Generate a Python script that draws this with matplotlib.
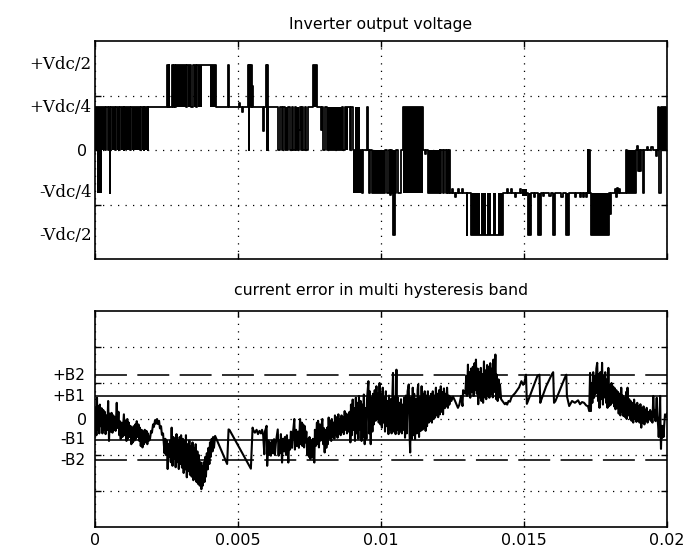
import matplotlib
matplotlib.use("Agg")
import matplotlib.pyplot as plt
import numpy as np

# inverter output voltage : switching instants (ms) and level (in steps of Vdc/4)
sw_pts = [(0.00, 1), (0.34, 0), (0.40, 1), (0.45, 0), (0.49, 1), (0.51, -1), (0.53, 0), (0.57, 1),
          (0.71, 0), (0.75, 1), (0.85, 0), (0.89, 1), (1.00, 0), (1.03, 1), (1.23, 0), (1.26, 1),
          (1.59, 0), (1.62, 1), (1.70, 0), (1.73, 1), (1.84, 0), (1.86, 1),
          (2.52, 2), (2.55, 1), (2.58, 2), (2.60, 1), (2.70, 2), (2.73, 1), (2.76, 2), (2.78, 1),
          (2.83, 2), (3.18, 1), (3.23, 2), (3.37, 1), (3.42, 2), (3.53, 1), (3.57, 2), (4.23, 1),
          (4.66, 2), (4.69, 1), (5.05, 1.1), (5.08, 1), (5.15, 0.9), (5.18, 1),
          (5.34, 2), (5.37, 0), (5.39, 2), (5.42, 1), (5.45, 2), (5.48, 1), (5.50, 1.5), (5.53, 1),
          (5.88, 0.45), (5.92, 1), (5.97, 2), (6.00, 0), (6.02, 2), (6.05, 0), (6.06, 1),
          (6.39, 0), (6.47, 1), (6.53, 0), (6.56, 1), (6.64, 0), (6.76, 1), (6.82, 0), (6.88, 1),
          (6.93, 0), (6.99, 1), (7.03, 0), (7.13, 0.47), (7.18, 1), (7.20, 0), (7.23, 1),
          (7.28, 0), (7.34, 1), (7.38, 0), (7.44, 1), (7.63, 2), (7.75, 1), (7.90, 0.47), (7.95, 1),
          (7.98, 0), (8.04, 1), (8.10, 0), (8.63, 1), (8.68, 0), (8.74, 1), (8.91, 0), (8.94, 1),
          (9.03, 0), (9.35, -1), (9.38, 0), (9.50, 1), (9.54, 0), (9.57, -1), (9.63, 0),
          (9.67, -1), (10.13, 0), (10.22, -1), (10.27, 0), (10.30, -1.05), (10.36, 0),
          (10.38, -1), (10.43, -2), (10.48, -1), (10.53, 0), (10.59, -1), (10.69, 0),
          (10.77, 1), (11.47, 0), (11.55, -0.1), (11.58, 0), (11.64, -1), (12.05, 0),
          (12.07, -1), (12.09, 0), (12.17, -1), (12.21, 0), (12.28, -1), (12.31, 0), (12.34, -1),
          (12.37, 0), (12.40, -1), (12.50, -0.92), (12.52, -1), (12.60, -1.1), (12.62, -1),
          (12.70, -0.92), (12.73, -1), (12.83, -0.92), (12.86, -1), (12.99, -2), (13.02, -1),
          (13.16, -2), (14.27, -1), (14.40, -0.92), (14.43, -1), (14.55, -0.92), (14.58, -1),
          (14.70, -1.1), (14.73, -1), (14.85, -0.92), (14.88, -1), (15.13, -2), (15.24, -1),
          (15.35, -1.1), (15.38, -1), (15.48, -2), (15.59, -1), (15.65, -1.08), (15.70, -1),
          (15.89, -1.08), (15.94, -1), (16.00, -2), (16.09, -1), (16.30, -1.1), (16.37, -1),
          (16.47, -2), (16.58, -1), (16.80, -1.1), (16.83, -1), (16.95, -1.1), (16.98, -1),
          (17.08, -1.1), (17.11, -1), (17.18, -1.1), (17.21, -1), (17.23, 0), (17.25, -1),
          (17.28, 0), (17.31, -1), (17.34, -2), (17.98, -1), (18.00, -1.5), (18.03, -1),
          (18.18, -0.92), (18.21, -1.1), (18.25, -0.9), (18.29, -1), (18.33, -0.92), (18.36, -1),
          (18.57, 0), (18.60, -1), (18.92, 0), (18.95, 0.1), (18.99, -0.5), (19.03, 0),
          (19.07, -0.5), (19.10, 0), (19.15, -1), (19.20, 0), (19.30, 0.08), (19.35, 0),
          (19.45, 0.08), (19.50, 0), (19.62, -0.15), (19.66, 0), (19.67, 1), (19.73, -1),
          (19.79, 1), (19.97, 0), (20.00, 0)]

# fast chattering stretches : t0, t1 (ms), low level, high level
chatter = [(0.00, 0.34, 0, 1), (0.06, 0.23, -1, 0), (0.61, 0.71, 0, 1), (0.78, 0.85, 0, 1),
           (0.92, 1.00, 0, 1), (1.05, 1.23, 0, 1), (1.29, 1.59, 0, 1), (1.64, 1.70, 0, 1),
           (1.75, 1.84, 0, 1), (2.83, 3.18, 1, 2), (3.26, 3.37, 1, 2), (3.46, 3.53, 1, 2),
           (3.60, 3.74, 1, 2), (4.03, 4.23, 1, 2), (5.97, 6.05, 0, 2), (6.64, 6.76, 0, 1),
           (7.03, 7.13, 0, 1), (7.63, 7.75, 1, 2), (8.10, 8.63, 0, 1), (8.74, 8.86, 0, 1),
           (9.03, 9.33, -1, 0), (9.08, 9.25, 0, 1), (9.67, 10.13, -1, 0), (10.38, 10.53, -1, 0),
           (10.43, 10.48, -2, -1), (10.77, 11.47, -1, 1), (11.64, 12.05, -1, 0),
           (13.16, 13.45, -2, -1), (13.51, 13.68, -2, -1), (13.72, 13.86, -2, -1),
           (13.92, 14.03, -2, -1), (14.09, 14.27, -2, -1), (14.92, 15.10, -1.08, -0.92),
           (15.13, 15.24, -2, -1), (15.48, 15.59, -2, -1), (16.00, 16.09, -2, -1),
           (16.47, 16.58, -2, -1), (17.34, 17.98, -2, -1), (18.60, 18.92, -1, 0),
           (19.67, 19.97, 0, 1)]

# current error (ms, error)
err_pts = [(0.00, -0.05), (0.02, 0.30), (0.05, -0.45), (0.07, 0.59), (0.09, -0.30), (0.12, 0.35),
           (0.15, -0.40), (0.17, 0.40), (0.20, -0.20), (0.23, 0.30), (0.26, -0.40), (0.29, 0.25),
           (0.31, -0.30), (0.34, 0.20), (0.37, -0.42), (0.40, 0.10), (0.43, -0.30), (0.46, 0.50),
           (0.49, -0.61), (0.52, 0.15), (0.55, -0.35), (0.58, 0.17), (0.61, -0.38), (0.64, 0.10),
           (0.66, -0.30), (0.69, 0.05), (0.72, -0.33), (0.76, 0.45), (0.79, -0.25), (0.82, 0.20),
           (0.85, -0.45), (0.87, -0.06), (0.90, -0.56), (0.93, -0.10), (0.96, -0.50), (1.01, 0.13),
           (1.04, -0.45), (1.07, -0.05), (1.10, -0.61), (1.13, 0.00), (1.15, -0.55), (1.18, -0.10),
           (1.21, -0.50), (1.24, -0.19), (1.27, -0.70), (1.29, -0.25), (1.32, -0.65), (1.35, -0.20),
           (1.38, -0.60), (1.41, -0.15), (1.43, -0.55), (1.46, -0.06), (1.49, -0.50), (1.52, -0.15),
           (1.55, -0.61), (1.57, -0.24), (1.60, -0.75), (1.63, -0.30), (1.66, -0.79), (1.69, -0.35),
           (1.71, -0.70), (1.74, -0.30), (1.77, -0.65), (1.80, -0.33), (1.83, -0.70), (1.85, -0.40),
           (1.89, -0.60),
           (1.92, -0.57), (1.96, -0.33), (1.99, -0.38), (2.03, -0.15), (2.06, -0.22), (2.10, -0.03),
           (2.13, -0.13), (2.17, 0.00), (2.20, -0.14), (2.24, -0.05), (2.27, -0.26), (2.31, -0.20),
           (2.34, -0.44), (2.38, -0.40),
           (2.43, -0.95), (2.46, -0.55), (2.48, -1.00), (2.51, -0.60), (2.54, -1.39), (2.57, -0.70),
           (2.59, -1.05), (2.62, -0.60), (2.65, -1.20), (2.68, -0.24), (2.71, -1.30), (2.74, -0.50),
           (2.76, -1.10), (2.79, -0.55), (2.82, -1.34), (2.85, -0.42), (2.87, -1.20), (2.90, -0.60),
           (2.93, -1.39), (2.96, -0.50), (2.99, -1.25), (3.01, -0.45), (3.04, -1.35), (3.07, -0.55),
           (3.10, -1.50), (3.13, -0.60), (3.15, -1.40), (3.18, -0.45), (3.21, -1.62), (3.24, -0.70),
           (3.27, -1.45), (3.30, -0.60), (3.32, -1.55), (3.35, -0.75), (3.38, -1.60), (3.41, -0.65),
           (3.44, -1.70), (3.46, -0.80), (3.49, -1.65), (3.52, -0.70), (3.55, -1.75), (3.58, -0.90),
           (3.60, -1.80), (3.63, -1.00), (3.66, -1.85), (3.69, -1.20), (3.72, -1.95), (3.74, -1.30),
           (3.77, -1.85), (3.80, -1.20), (3.83, -1.75), (3.86, -1.05), (3.88, -1.60), (3.91, -0.95),
           (3.94, -1.40), (3.97, -0.80), (4.00, -1.25), (4.02, -0.65), (4.05, -1.05), (4.08, -0.55),
           (4.11, -0.90), (4.13, -0.50), (4.16, -0.80), (4.20, -0.47),
           (4.62, -1.25), (4.67, -0.29), (4.70, -0.30), (5.45, -1.38), (5.51, -0.24),
           (5.53, -0.30), (5.59, -0.38), (5.65, -0.30), (5.70, -0.42), (5.75, -0.33), (5.80, -0.40),
           (5.84, -0.30), (5.88, -0.45), (5.92, -0.98), (5.94, -0.35), (6.00, -0.19), (6.02, -1.30),
           (6.06, -0.60), (6.08, -1.00), (6.12, -0.65), (6.15, -1.02), (6.19, -0.60), (6.22, -0.95),
           (6.26, -0.56), (6.29, -1.00), (6.33, -0.62), (6.39, -0.29), (6.42, -1.02), (6.44, -0.60),
           (6.47, -0.95), (6.50, -0.42), (6.54, -1.21), (6.57, -0.55), (6.61, -0.90), (6.64, -0.50),
           (6.68, -1.00), (6.71, -0.45), (6.76, -1.21), (6.79, -0.60), (6.82, -0.85), (6.85, -0.35),
           (6.89, -0.80), (6.92, -0.40), (6.97, 0.00), (6.99, -0.85), (7.03, -0.30), (7.06, -0.75),
           (7.10, -0.35), (7.13, -0.80), (7.17, 0.00), (7.20, -0.70), (7.23, -0.10), (7.25, -0.75),
           (7.28, -0.15), (7.31, -0.79), (7.34, -0.20), (7.36, -0.65), (7.39, -0.35), (7.42, -1.00),
           (7.45, -0.55), (7.48, -1.05), (7.50, -0.50), (7.53, -1.11), (7.56, -0.60), (7.59, -1.05),
           (7.62, -0.55), (7.64, -1.10), (7.67, -1.21), (7.69, -0.30), (7.72, -0.75), (7.76, -0.10),
           (7.78, -0.70), (7.80, -0.05), (7.83, -0.79), (7.86, -0.15), (7.89, -0.60), (7.92, -0.20),
           (7.95, 0.00), (7.98, -0.70), (8.00, -0.25), (8.03, -0.93), (8.06, -0.30), (8.09, -0.80),
           (8.12, -0.24), (8.14, -0.70), (8.17, 0.04), (8.20, -0.55), (8.23, -0.05), (8.26, -0.61),
           (8.28, 0.00), (8.31, -0.50), (8.34, -0.10), (8.37, -0.55), (8.39, 0.10), (8.42, -0.45),
           (8.45, 0.05), (8.48, -0.52), (8.51, 0.13), (8.53, -0.40), (8.56, 0.00), (8.59, -0.45),
           (8.62, 0.10), (8.65, -0.35), (8.67, 0.05), (8.70, -0.42), (8.73, 0.22), (8.76, -0.30),
           (8.79, 0.15), (8.81, -0.40), (8.84, 0.10), (8.87, -0.35), (8.90, 0.20), (8.93, -0.65),
           (8.95, 0.40), (8.98, -0.45), (9.01, 0.54), (9.04, -0.30), (9.07, 0.30), (9.09, -0.61),
           (9.12, 0.59), (9.15, -0.40), (9.18, 0.45), (9.21, -0.55), (9.23, 0.64), (9.26, -0.30),
           (9.29, 0.50), (9.32, -0.61), (9.35, 0.40), (9.37, -0.50), (9.40, 0.68), (9.43, -0.70),
           (9.46, 0.30), (9.49, -0.55), (9.51, 0.55), (9.56, 1.05), (9.58, -0.40), (9.61, 0.77),
           (9.64, -0.70), (9.67, 0.60), (9.70, -0.35), (9.72, 0.70), (9.75, -0.15), (9.78, 0.80),
           (9.81, -0.05), (9.84, 0.91), (9.86, 0.00), (9.89, 0.70), (9.92, -0.10), (9.95, 1.00),
           (9.98, -0.15),
           (10.00, 0.70), (10.03, -0.24), (10.06, 0.87), (10.09, -0.10), (10.12, 0.60), (10.14, -0.35),
           (10.17, 0.77), (10.20, -0.20), (10.23, 0.50), (10.26, -0.42), (10.28, 0.65), (10.31, -0.30),
           (10.34, 0.55), (10.37, -0.40), (10.40, 0.70), (10.42, 1.28), (10.45, -0.35), (10.48, 0.60),
           (10.51, -0.42), (10.54, 1.37), (10.56, -0.30), (10.59, 0.59), (10.62, -0.42), (10.65, 0.45),
           (10.67, -0.35), (10.70, 0.55), (10.73, -0.40), (10.76, 0.40), (10.79, -0.30), (10.81, 0.59),
           (10.84, -0.52), (10.87, 0.65), (10.90, -0.40), (10.93, 0.77), (10.97, 0.96), (11.00, -0.45),
           (11.02, -0.93), (11.05, 0.60), (11.08, -0.56), (11.11, 0.87), (11.14, -0.45), (11.16, 0.70),
           (11.19, -0.56), (11.22, 0.55), (11.25, -0.40), (11.28, 0.80), (11.30, 0.96), (11.33, -0.50),
           (11.36, 0.60), (11.39, -0.33), (11.42, 0.91), (11.45, -0.30), (11.47, 0.70), (11.50, -0.25),
           (11.53, 0.77), (11.56, -0.33), (11.58, 0.65), (11.61, -0.20), (11.64, 0.77), (11.67, -0.10),
           (11.70, 0.60), (11.72, -0.05), (11.75, 0.70), (11.78, -0.10), (11.81, 0.77), (11.84, 0.00),
           (11.86, 0.65), (11.89, 0.04), (11.92, 0.87), (11.95, 0.10), (11.98, 0.70), (12.00, 0.05),
           (12.03, 0.80), (12.06, 0.13), (12.09, 0.91), (12.12, 0.20), (12.14, 0.75), (12.17, 0.13),
           (12.20, 0.85), (12.23, 0.30), (12.26, 0.70), (12.28, 0.35), (12.31, 0.87), (12.34, 0.31),
           (12.37, 0.65), (12.39, 0.40), (12.43, 0.62), (12.46, 0.50), (12.52, 0.62),
           (12.59, 0.50), (12.69, 0.31), (12.74, 0.40), (12.80, 0.64), (12.85, 0.36), (12.87, 0.80),
           (12.93, 0.75),
           (12.95, 0.70), (12.98, 1.20), (13.01, 0.64), (13.04, 1.51), (13.07, 0.70), (13.10, 1.30),
           (13.12, 0.59), (13.15, 1.40), (13.18, 0.75), (13.21, 1.45), (13.24, 0.64), (13.27, 1.55),
           (13.29, 0.80), (13.32, 1.65), (13.35, 0.70), (13.38, 1.40), (13.40, 0.41), (13.43, 1.30),
           (13.46, 0.60), (13.49, 1.42), (13.51, 0.50), (13.54, 1.25), (13.57, 0.45), (13.60, 1.60),
           (13.63, 0.60), (13.65, 1.35), (13.68, 0.55), (13.71, 1.50), (13.74, 0.65), (13.77, 1.45),
           (13.79, 0.59), (13.82, 1.55), (13.85, 0.70), (13.88, 1.40), (13.91, 0.60), (13.93, 1.65),
           (13.96, 0.75), (14.00, 1.79), (14.03, 0.55), (14.05, 1.23), (14.08, 0.50), (14.11, 1.10),
           (14.14, 0.60), (14.16, 0.95), (14.20, 0.55),
           (14.33, 0.41), (14.37, 0.45), (14.41, 0.40), (14.46, 0.50), (14.51, 0.48), (14.56, 0.60),
           (14.62, 0.66), (14.69, 0.72), (14.76, 0.80), (14.83, 0.88), (14.91, 1.05), (14.97, 0.95),
           (15.01, 1.00),
           (15.07, 1.23), (15.10, 0.42), (15.14, 0.50), (15.47, 1.20), (15.54, 1.23), (15.57, 0.45),
           (15.59, 0.50), (15.77, 0.90), (15.98, 1.25), (16.02, 1.30), (16.05, 0.45), (16.10, 0.50),
           (16.43, 1.15), (16.48, 1.23), (16.50, 0.64),
           (16.58, 0.36), (16.68, 0.50), (16.78, 0.45), (16.89, 0.52), (16.96, 0.41), (17.03, 0.47),
           (17.10, 0.45), (17.17, 0.38), (17.24, 0.35),
           (17.28, 0.22), (17.31, 1.28), (17.34, 0.22), (17.36, 1.00), (17.39, 0.45), (17.42, 1.30),
           (17.45, 0.59), (17.48, 1.20), (17.50, 0.70), (17.53, 1.40), (17.56, 1.56), (17.59, 0.50),
           (17.62, 1.25), (17.64, 0.31), (17.67, 1.30), (17.70, 0.55), (17.73, 1.56), (17.76, 0.40),
           (17.78, 1.20), (17.81, 0.60), (17.84, 1.30), (17.87, 0.45), (17.90, 1.10), (17.92, 0.31),
           (17.95, 1.42), (17.98, 0.36), (18.01, 0.95), (18.04, 0.40), (18.06, 1.00), (18.09, 0.45),
           (18.12, 0.90), (18.15, 0.35), (18.18, 0.85), (18.20, 0.27), (18.23, 0.80), (18.26, 0.30),
           (18.29, 0.75), (18.31, 0.15), (18.34, 0.70), (18.37, 0.10), (18.40, 0.87), (18.43, 0.20),
           (18.45, 0.65), (18.48, 0.08), (18.51, 0.60), (18.54, 0.05), (18.57, 0.75), (18.59, 0.00),
           (18.62, 0.87), (18.65, 0.10), (18.68, 0.55), (18.71, 0.00), (18.73, 0.50), (18.76, -0.05),
           (18.79, 0.45), (18.82, -0.10), (18.85, 0.54), (18.87, 0.00), (18.90, 0.40), (18.93, -0.08),
           (18.96, 0.45), (18.99, -0.05), (19.01, 0.35), (19.04, -0.10), (19.07, 0.41), (19.10, -0.24),
           (19.13, 0.30), (19.15, -0.10), (19.18, 0.35), (19.21, -0.15), (19.24, 0.25), (19.27, -0.05),
           (19.29, 0.31), (19.32, -0.10), (19.35, 0.20), (19.38, 0.00), (19.41, 0.25), (19.43, -0.05),
           (19.46, 0.20), (19.49, -0.10), (19.52, 0.64), (19.55, 0.05), (19.57, 0.25), (19.60, -0.06),
           (19.64, 0.59), (19.66, 0.10),
           (19.69, -0.19), (19.71, -0.50), (19.73, -0.19), (19.76, 0.64), (19.78, -0.52), (19.79, -0.83),
           (19.81, -0.19), (19.83, -0.52), (19.86, -0.19), (19.88, -0.50), (19.90, -0.20), (19.93, 0.13),
           (19.97, 0.05), (20.00, 0.15)]

# voltage levels and their names
lvl_val = [2, 1, -1, -2]
lvl_lbl = ['+Vdc/2', '+Vdc/4', '-Vdc/4', '-Vdc/2']
vq = 0.78   # axis units for one Vdc/4 step

# hysteresis bands
band_val = [1.22, 0.63, -0.58, -1.15]
band_lbl = ['+B2', '+B1', '-B1', '-B2']

xticks = [0, 0.005, 0.01, 0.015, 0.02]
xtick_lbl = ['0', '0.005', '0.01', '0.015', '0.02']

W, H = 699, 551
fig = plt.figure(figsize=(W / 100, H / 100), dpi=100)
ax1 = fig.add_axes([95 / W, 1 - 259 / H, 572 / W, 218 / H])
ax2 = fig.add_axes([95 / W, 1 - 527 / H, 572 / W, 216 / H])

dots = (0, (1, 5))

for ax in (ax1, ax2):
    ax.set_xlim(0, 0.02)
    ax.set_xticks(xticks)
    ax.grid(True, color='k', linestyle=dots, lw=0.9)
    ax.tick_params(direction='in', length=4.5, width=1, top=True, right=True,
                   labelsize=11.5, pad=4, colors='k')
    for s in ax.spines.values():
        s.set_linewidth(1.2)

# --- output voltage
t, lv = np.array(sw_pts).T
ax1.step(t * 1e-3, lv * vq, where='post', color='k', lw=1.3)
for t0, t1, lo, hi in chatter:
    ax1.fill_between([t0 * 1e-3, t1 * 1e-3], lo * vq, hi * vq, color='k', lw=0)
ax1.set_ylim(-2, 2)
ax1.set_yticks([-1, 0, 1])
ax1.set_yticklabels(['', '0', ''])
ax1.tick_params(axis='y', pad=6)
ax1.set_xticklabels([])
for v, s in zip(lvl_val, lvl_lbl):
    ax1.text(-0.006, v * vq, s, transform=ax1.get_yaxis_transform(), ha='right', va='center',
             family='DejaVu Serif', fontsize=12)
fig.text(381 / W, 1 - 24 / H, 'Inverter output voltage', ha='center', va='center', fontsize=11.3)

# --- current error
et, ev = np.array(err_pts).T
for b, s in zip(band_val, band_lbl):
    ls = (0, (20, 6.5)) if s.endswith('2') else '-'
    ax2.axhline(b, color='k', lw=1.15, linestyle=ls)
    ax2.text(-0.017, b, s, transform=ax2.get_yaxis_transform(), ha='right', va='center',
             fontsize=11)
ax2.plot(et * 1e-3, ev, color='k', lw=1.5)
ax2.set_ylim(-3, 3)
ax2.set_yticks([-2, -1, 0, 1, 2])
ax2.set_yticklabels(['', '', '0', '', ''])
ax2.tick_params(axis='y', pad=6)
ax2.set_xticklabels(xtick_lbl)
fig.text(381 / W, 1 - 291 / H, 'current error in multi hysteresis band', ha='center', va='center',
         fontsize=11.3)

fig.savefig('out.png', dpi=100)
